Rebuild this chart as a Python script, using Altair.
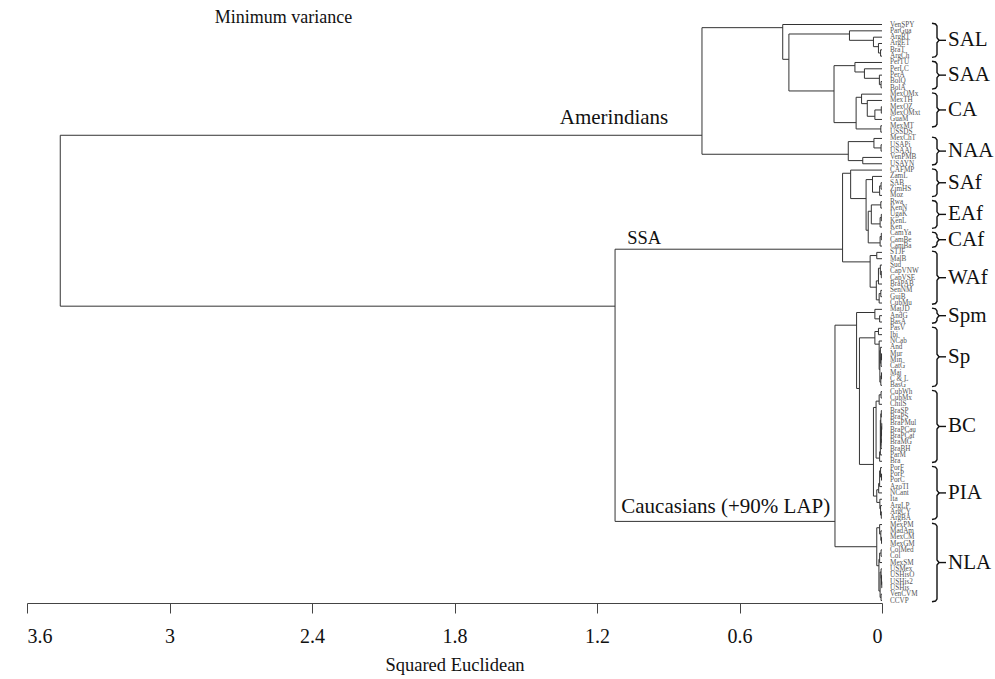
import altair as alt
import pandas as pd

# ---------------- data ----------------
leaves = [
    "VenSPY", "ParGua", "ArgRT", "ArgET", "BraT", "ArgCh",
    "PerTU", "PerLC", "PerA", "BolQ", "BolA",
    "MexOMx", "MexTH", "MexOZ", "MexOMxt", "GuaM", "MexMT", "USSDS",
    "MexChT", "USAPi", "USAAI", "VenPMB", "USAYN",
    "CAFMP", "ZamL", "SAB", "ZimHS", "Moz",
    "Rwa", "KenN", "UgaK", "KenL", "Ken",
    "CamYa", "CamBe", "CamBa",
    "STJF", "MalB", "Sud", "CapVNW", "CapVSE", "BraPAB", "SenNM", "GuiB", "CubMu",
    "MajJD", "AndG", "BasA",
    "PasV", "Ibi", "NCab", "And", "Mur", "Min", "CatG", "Maj", "C & L", "BasG",
    "CubWh", "CubMx", "ChilS", "BraSP", "BraPS", "BraPMul", "BraPCau", "BraPCaf",
    "BraMG", "BraBH", "ParM", "Bra",
    "PorF", "PorP", "PorC", "AzoTI", "NCant", "Ita", "ArgLP", "ArgCY", "ArgBA",
    "MexPM", "MadAm", "MexCM", "MexGM", "ColMed", "Col", "MexSM", "USMex",
    "USHisO", "USHis2", "USHis", "VenCVM", "CCVP",
]

# merges: (node, upper child, lower child, height in squared Euclidean)
merges = [
    ("c4", "BraT", "ArgCh", 0.006), ("c3", "ArgET", "c4", 0.015),
    ("c2", "ArgRT", "c3", 0.036), ("sal", "ParGua", "c2", 0.137),
    ("s4", "BolQ", "BolA", 0.004), ("s3", "PerA", "s4", 0.011),
    ("s2", "PerLC", "s3", 0.074), ("saa", "PerTU", "s2", 0.114),
    ("a4", "MexOZ", "MexOMxt", 0.003), ("a3", "a4", "GuaM", 0.030),
    ("a2", "MexTH", "a3", 0.062), ("a1", "MexOMx", "a2", 0.086),
    ("a5", "MexMT", "USSDS", 0.005), ("ca", "a1", "a5", 0.109),
    ("sca", "saa", "ca", 0.202), ("B", "sal", "sca", 0.392),
    ("A", "VenSPY", "B", 0.418),
    ("n2", "USAPi", "USAAI", 0.004), ("n1", "MexChT", "n2", 0.034),
    ("n3", "VenPMB", "USAYN", 0.081), ("naa", "n1", "n3", 0.142),
    ("amer", "A", "naa", 0.758),
    ("f3", "SAB", "ZimHS", 0.004), ("f2", "f3", "Moz", 0.010),
    ("f1", "ZamL", "f2", 0.040),
    ("e1", "Rwa", "KenN", 0.005), ("e3", "UgaK", "KenL", 0.003),
    ("e2", "e3", "Ken", 0.008), ("eaf", "e1", "e2", 0.045),
    ("k1", "CamYa", "CamBe", 0.003), ("caf", "k1", "CamBa", 0.008),
    ("ez", "eaf", "caf", 0.058), ("ey", "f1", "ez", 0.067),
    ("ex", "CAFMP", "ey", 0.132),
    ("w1", "STJF", "MalB", 0.022), ("w5", "CapVNW", "CapVSE", 0.003),
    ("w4", "Sud", "w5", 0.007), ("w3", "w4", "BraPAB", 0.015),
    ("w7", "SenNM", "GuiB", 0.005), ("w6", "w7", "CubMu", 0.012),
    ("w2", "w3", "w6", 0.024), ("waf", "w1", "w2", 0.050),
    ("ssa", "ex", "waf", 0.166),
    ("m1", "AndG", "BasA", 0.010), ("spm", "MajJD", "m1", 0.030),
    ("p1", "PasV", "Ibi", 0.015), ("p5", "Mur", "Min", 0.002),
    ("p4", "p5", "CatG", 0.004), ("p3", "And", "p4", 0.007),
    ("p7", "Maj", "C & L", 0.002), ("p6", "p7", "BasG", 0.005),
    ("p8", "p3", "p6", 0.009), ("p2", "NCab", "p8", 0.012),
    ("sp", "p1", "p2", 0.030),
    ("b1", "CubWh", "CubMx", 0.004), ("b2", "b1", "ChilS", 0.012),
    ("b4", "BraSP", "BraPS", 0.003), ("b6", "BraPMul", "BraPCau", 0.001),
    ("b7", "b6", "BraPCaf", 0.002), ("b8", "b7", "BraMG", 0.003),
    ("b9", "b8", "BraBH", 0.004), ("b5", "b4", "b9", 0.005),
    ("b10", "b5", "ParM", 0.007), ("b11", "b10", "Bra", 0.010),
    ("bc", "b2", "b11", 0.025),
    ("i2", "PorP", "PorC", 0.002), ("i1", "PorF", "i2", 0.006),
    ("i3", "i1", "AzoTI", 0.010), ("i4", "i3", "NCant", 0.014),
    ("i6", "ArgCY", "ArgBA", 0.003), ("i5", "ArgLP", "i6", 0.006),
    ("i7", "Ita", "i5", 0.009), ("pia", "i4", "i7", 0.022),
    ("bp", "bc", "pia", 0.036), ("r1", "sp", "bp", 0.095),
    ("eu", "spm", "r1", 0.107),
    ("l2", "MexCM", "MexGM", 0.002), ("l1", "MadAm", "l2", 0.005),
    ("l0", "MexPM", "l1", 0.010), ("l4", "ColMed", "Col", 0.004),
    ("l3", "l4", "MexSM", 0.010), ("l7", "USHis2", "USHis", 0.001),
    ("l6", "USHisO", "l7", 0.002), ("l8", "USMex", "l6", 0.004),
    ("l10", "VenCVM", "CCVP", 0.004), ("l11", "l8", "l10", 0.008),
    ("l12", "l3", "l11", 0.013), ("nla", "l0", "l12", 0.022),
    ("cauc", "eu", "nla", 0.198),
    ("sc", "ssa", "cauc", 1.124),
    ("root", "amer", "sc", 3.46),
]

groups = [
    ("SAL", "VenSPY", "ArgCh"), ("SAA", "PerTU", "BolA"), ("CA", "MexOMx", "MexMT"),
    ("NAA", "MexChT", "USAYN"), ("SAf", "CAFMP", "Moz"), ("EAf", "Rwa", "Ken"),
    ("CAf", "CamYa", "CamBa"), ("WAf", "STJF", "CubMu"), ("Spm", "MajJD", "BasA"),
    ("Sp", "PasV", "BasG"), ("BC", "CubWh", "Bra"), ("PIA", "PorF", "ArgBA"),
    ("NLA", "MexPM", "CCVP"),
]

tick_values = [3.6, 3, 2.4, 1.8, 1.2, 0.6, 0]

# ---------------- geometry from the tree ----------------
idx = {n: i for i, n in enumerate(leaves)}
info = {n: (i, i, float(i), 0.0) for n, i in idx.items()}
segs = []
for name, a, b, h in merges:
    fa, la, ya, ha = info[a]
    fb, lb, yb, hb = info[b]
    segs.append(dict(x1=h, x2=h, y1=ya, y2=yb))
    segs.append(dict(x1=ha, x2=h, y1=ya, y2=ya))
    segs.append(dict(x1=hb, x2=h, y1=yb, y2=yb))
    info[name] = (fa, lb, la + 0.5, h)
seg_df = pd.DataFrame(segs)

leaf_df = pd.DataFrame({"name": leaves, "y": [float(i) for i in range(len(leaves))], "x": 0.0})

W, H = 855, 603
PX = 3.6 / W          # data units per pixel on x
PY = 1 / 6.33         # leaf units per pixel on y

brace_rows, tip_rows, glab_rows = [], [], []
for g, a, b in groups:
    y1 = idx[a] - 0.2
    y2 = idx[b] + 0.2
    ym = (y1 + y2) / 2
    pts = [(-50, y1), (-53.5, y1 + 0.12), (-55, y1 + 0.45), (-55, ym - 0.4),
           (-57, ym), (-55, ym + 0.4), (-55, y2 - 0.45), (-53.5, y2 - 0.12), (-50, y2)]
    for k, (px, yy) in enumerate(pts):
        brace_rows.append(dict(g=g, o=k, x=px * PX, y=yy))
    tip_rows.append(dict(g=g, x1=-57 * PX, x2=-64 * PX, y=ym))
    glab_rows.append(dict(g=g, x=-66 * PX, y=ym))
brace_df = pd.DataFrame(brace_rows)
tip_df = pd.DataFrame(tip_rows)
glab_df = pd.DataFrame(glab_rows)

# ---------------- chart ----------------
SERIF = "Liberation Serif"
xs = alt.Scale(domain=[0, 3.6], reverse=True, nice=False, zero=False)
ys = alt.Scale(domain=[-24.5 * PY, (H - 24.5) * PY], reverse=True, nice=False, zero=False)

xaxis = alt.Axis(values=tick_values, format="~g", grid=False, tickSize=10,
                 labelFont=SERIF, labelFontSize=20, labelColor="#111", labelPadding=13,
                 domainColor="#444", tickColor="#444", domainWidth=1.2,
                 title="Squared Euclidean", titleFont=SERIF, titleFontSize=18.5,
                 titleFontWeight="normal", titleColor="#111", titleY=61,
                 titleBaseline="middle")


def X(field):
    return alt.X(field, scale=xs, axis=xaxis, title="Squared Euclidean")


def Y(field):
    return alt.Y(field, scale=ys, axis=None)


tree = alt.Chart(seg_df).mark_rule(color="#333", strokeWidth=1).encode(
    x=X("x1:Q"), x2="x2:Q", y=Y("y1:Q"), y2="y2:Q",
)

leaf_text = alt.Chart(leaf_df).mark_text(
    align="left", baseline="middle", dx=8, font=SERIF, fontSize=7.2, color="#555"
).encode(x=X("x:Q"), y=Y("y:Q"), text="name:N")

braces = alt.Chart(brace_df).mark_line(color="#111", strokeWidth=1.4).encode(
    x=X("x:Q"), y=Y("y:Q"), detail="g:N", order="o:Q",
)

tips = alt.Chart(tip_df).mark_rule(color="#111", strokeWidth=1.4).encode(
    x=X("x1:Q"), x2="x2:Q", y=Y("y:Q"),
)

glabels = alt.Chart(glab_df).mark_text(
    align="left", baseline="middle", font=SERIF, fontSize=21, color="#111"
).encode(x=X("x:Q"), y=Y("y:Q"), text="g:N")


def note(text, x, y, align, size):
    d = pd.DataFrame({"t": [text], "x": [x], "y": [y]})
    return alt.Chart(d).mark_text(
        align=align, baseline="alphabetic", font=SERIF, fontSize=size, color="#111"
    ).encode(x=X("x:Q"), y=Y("y:Q"), text="t:N")


notes = [
    note("Minimum variance", 2.52, -0.3, "center", 18),
    note("Amerindians", 0.90, 15.7, "right", 21),
    note("SSA", 1.123 - 12 * PX, 34.6, "left", 18.5),
    note("Caucasians (+90% LAP)", 1.123 - 6 * PX, 77.1, "left", 21),
]

chart = alt.layer(tree, leaf_text, braces, tips, glabels, *notes).properties(
    width=W, height=H,
    autosize=alt.AutoSizeParams(type="none"),
    padding={"left": 27, "top": 0, "right": 113, "bottom": 76},
    background="white",
).configure_view(stroke=None).configure_axisX(
    labelFont=SERIF, labelFontSize=20, labelColor="#111", labelPadding=13,
    titleFont=SERIF, titleFontSize=18.5, titleFontWeight="normal", titleColor="#111",
    tickSize=10, grid=False,
).configure_text(font=SERIF)

chart.save("out.html", embed_options={"renderer": "svg", "actions": False})
